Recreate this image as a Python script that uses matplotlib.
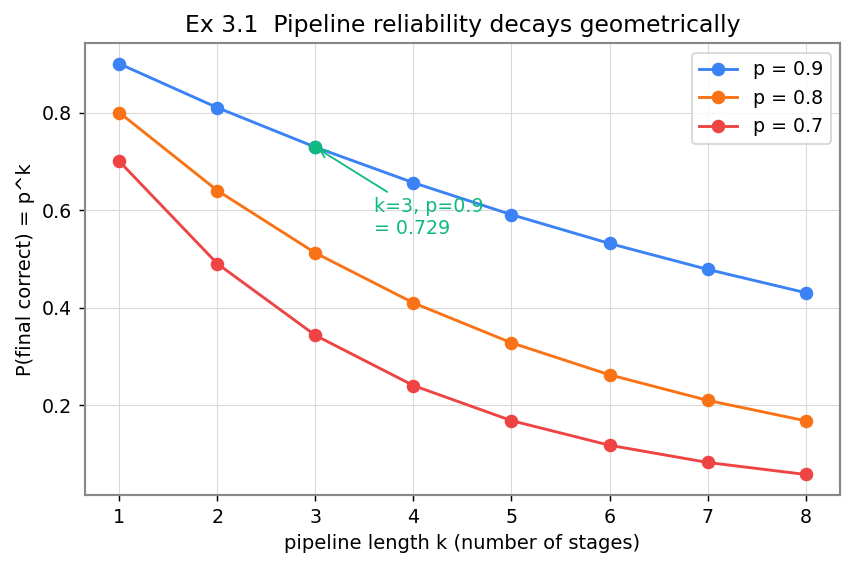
import matplotlib
matplotlib.use("Agg")
import matplotlib.pyplot as plt
import numpy as np

k = [1, 2, 3, 4, 5, 6, 7, 8]
probs = [0.9, 0.8, 0.7]
labels = ["p = 0.9", "p = 0.8", "p = 0.7"]
colors = ["#3b82f6", "#f97316", "#ef4444"]
green = "#10b981"

fig, ax = plt.subplots(figsize=(6.6, 4.377), dpi=130)

ks = np.array(k)
for p, lab, c in zip(probs, labels, colors):
    ax.plot(ks, p ** ks, marker="o", color=c, lw=1.6, ms=6.5, label=lab)

# highlight k=3, p=0.9
ax.plot([3], [0.9 ** 3], "o", color=green, ms=6.5, zorder=5)
ax.annotate("k=3, p=0.9\n= 0.729", xy=(3, 0.9 ** 3), xytext=(3.6, 0.55),
            color=green, fontsize=10.5,
            arrowprops=dict(arrowstyle="->", color=green, lw=1))

ax.set_title("Ex 3.1  Pipeline reliability decays geometrically", fontsize=13)
ax.set_xlabel("pipeline length k (number of stages)", fontsize=10.8)
ax.set_ylabel("P(final correct) = p^k", fontsize=10.8)
ax.set_yticks([0.2, 0.4, 0.6, 0.8])
ax.grid(True, color="#d9d9d9", lw=0.6)
ax.set_axisbelow(True)
for s in ax.spines.values():
    s.set_color("#888888")
    s.set_linewidth(1.2)
ax.tick_params(labelsize=10.5)
ax.legend(loc="upper right", fontsize=10.5)

fig.subplots_adjust(left=0.099, right=0.979, top=0.924, bottom=0.130)
fig.savefig("out.png", dpi=130)
